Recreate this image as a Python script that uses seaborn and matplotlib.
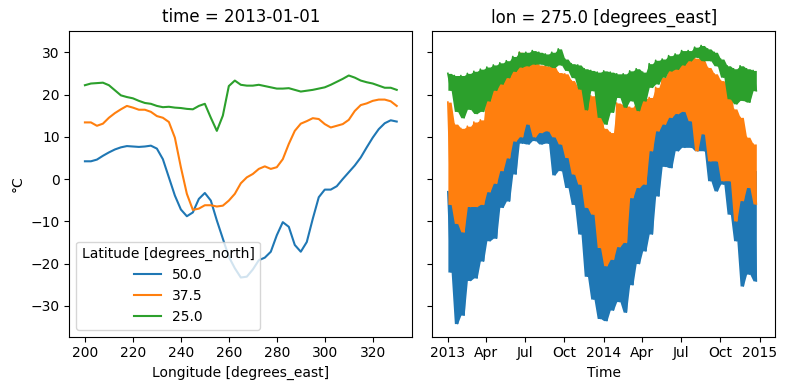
import numpy as np
import pandas as pd
import matplotlib
matplotlib.use("Agg")
import matplotlib.pyplot as plt
import matplotlib.dates as mdates
import matplotlib.ticker as mticker
import seaborn as sns

# ---------------- data: left panel (time = 2013-01-01) ----------------
lon = np.arange(200.0, 332.5, 2.5)
lat_labels = ["50.0", "37.5", "25.0"]
air_lat50 = [4.2, 4.2, 4.6, 5.5, 6.3, 7.0, 7.5, 7.8, 7.7, 7.6, 7.7, 7.9, 7.2, 4.7,
             0.4, -3.9, -7.2, -8.8, -7.9, -4.7, -3.3, -5.1, -9.8, -14.1, -18.4,
             -21.1, -23.3, -23.1, -21.4, -19.2, -18.6, -17.2, -13.3, -10.2, -11.3,
             -15.6, -17.2, -14.9, -9.4, -4.3, -2.5, -2.5, -1.7, 0.0, 1.6, 3.2, 5.1,
             7.5, 9.8, 11.8, 13.2, 13.9, 13.6]
air_lat37 = [13.4, 13.4, 12.6, 13.1, 14.5, 15.6, 16.5, 17.3, 16.9, 16.4, 16.4, 15.9,
             14.9, 14.5, 13.5, 9.8, 2.8, -3.5, -7.3, -7.0, -6.2, -6.2, -6.5, -6.3,
             -5.1, -3.5, -1.0, 0.4, 1.2, 2.4, 3.0, 2.4, 2.8, 4.7, 8.3, 11.4, 13.1,
             13.7, 14.4, 14.2, 13.0, 12.2, 12.6, 13.0, 14.0, 16.1, 17.5, 17.9, 18.5,
             18.8, 18.8, 18.4, 17.3]
air_lat25 = [22.2, 22.6, 22.7, 22.8, 22.2, 21.0, 19.8, 19.4, 19.1, 18.5, 18.0, 17.8,
             17.3, 17.0, 17.1, 16.9, 16.8, 16.6, 16.5, 17.3, 17.8, 14.5, 11.4, 15.0,
             22.0, 23.3, 22.3, 22.1, 22.1, 22.3, 22.0, 21.7, 21.4, 21.4, 21.5, 21.1,
             20.7, 20.9, 21.1, 21.4, 21.7, 22.3, 23.0, 23.7, 24.5, 24.0, 23.3, 22.9,
             22.6, 22.1, 21.6, 21.6, 21.1]

# ---------------- data: right panel (lon = 275), half-month max / min readings --------
lat50_max = [-3, -6, -5, -2, -1, 2, 6, 9, 13, 17, 20, 23, 25.7, 24, 24, 26.4, 22, 20,
             17, 14, 9, 5, 2, 0, -2, -4, -2, 0, 2, 4, 8, 12, 15, 18, 20.9, 22, 24, 25,
             24, 20.5, 18, 15, 12, 10, 5, 2, 3, 2]
lat50_min = [-22, -34.2, -32.2, -24, -23.4, -19.4, -14.6, -14, -6.7, -5.2, 1.2, 8.5,
             8.3, 9.1, 8.3, 8.5, 1.0, 2.0, -2.0, -6, -13, -23, -28.4, -33, -33.5, -31,
             -29, -31.5, -25, -20, -17, -13, -4, 3.0, 2.7, 6.7, 7.5, 7.5, 6.7, 6.7,
             -0.4, -2.8, -1.2, -8.3, -14.6, -25.3, -22.5, -24.1]
lat37_max = [18.2, 13.0, 12.0, 12.5, 13.5, 14.0, 22.0, 23.0, 25.0, 26.0, 28.5, 30.0,
             29.6, 28.4, 27.0, 26.8, 26.8, 25.2, 24.9, 23.3, 21.7, 20.1, 19.7, 20.1,
             12.0, 11.0, 18.0, 17.5, 17.0, 18.2, 19.0, 19.3, 21.7, 24.1, 25.7, 27.3,
             30.0, 28.8, 28.6, 28.4, 26.4, 24.9, 23.3, 22.1, 16.6, 14.6, 9.9, 8.3]
lat37_min = [-6.0, -10.5, -12.5, -6.5, -6.5, -6.0, -3.0, -1.0, 2.0, 5.0, 9.0, 10.0,
             13.0, 10.0, 11.0, 11.4, 10.0, 8.3, 5.1, 1.2, -1.2, -6.7, -8.3, -16.2,
             -20.5, -19.0, -16.0, -15.0, -4.4, -2.0, -1.2, 6.7, 11.4, 13.0, 14.6, 15.5,
             16.0, 13.8, 6.7, 10.7, 4.3, 4.3, -0.4, -0.4, -9.9, -5.1, -2.0, -5.9]
lat25_max = [25.0, 24.5, 24.5, 25.0, 25.5, 26.0, 26.5, 27.0, 27.5, 28.0, 29.0, 30.0,
             30.0, 30.4, 30.0, 29.6, 30.0, 30.8, 28.4, 27.3, 27.0, 26.1, 25.7, 25.3,
             25.6, 25.3, 24.9, 24.9, 25.6, 26.1, 25.3, 27.3, 28.1, 28.4, 29.2, 29.6,
             30.4, 30.4, 31.2, 31.6, 30.8, 30.0, 28.4, 26.8, 26.1, 26.8, 26.1, 25.7]
lat25_min = [21.0, 16.0, 14.5, 16.5, 15.5, 16.0, 18.5, 21.0, 22.5, 24.0, 25.5, 26.5,
             26.8, 27.2, 27.2, 26.8, 26.4, 27.0, 25.7, 24.0, 21.3, 16.4, 20.9, 14.6,
             13.0, 15.8, 19.3, 17.0, 18.5, 16.2, 18.5, 21.7, 22.5, 24.1, 25.6, 26.0,
             27.0, 28.0, 28.8, 28.0, 28.0, 26.8, 24.1, 19.0, 17.8, 18.6, 18.2, 20.9]

# ---------------- tables ----------------
hue_name = "Latitude [degrees_north]"
left_df = pd.concat([
    pd.DataFrame({"lon": lon, "air": vals, hue_name: lab})
    for vals, lab in zip([air_lat50, air_lat37, air_lat25], lat_labels)
], ignore_index=True)

times = pd.date_range("2013-01-01", periods=96, freq="182h30min")

def interleave(mx, mn):
    out = []
    for a, b in zip(mx, mn):
        out.extend([a, b])
    return out

series = [(lat50_max, lat50_min), (lat37_max, lat37_min), (lat25_max, lat25_min)]
right_df = pd.concat([
    pd.DataFrame({"time": times, "air": interleave(mx, mn),
                  "lo": np.repeat(mn, 2), "hi": np.repeat(mx, 2), hue_name: lab})
    for (mx, mn), lab in zip(series, lat_labels)
], ignore_index=True)

# ---------------- figure ----------------
palette = {"50.0": "#1f77b4", "37.5": "#ff7f0e", "25.0": "#2ca02c"}
fig = plt.figure(figsize=(7.87, 3.90), dpi=100)
ax1 = fig.add_axes([0.0881, 0.1367, 0.4358, 0.7846])
ax2 = fig.add_axes([0.5493, 0.1367, 0.4355, 0.7846], sharey=ax1)

sns.lineplot(data=left_df, x="lon", y="air", hue=hue_name, hue_order=lat_labels,
             palette=palette, estimator=None, sort=False, linewidth=1.5, ax=ax1)

for i, lab in enumerate(lat_labels):
    sub = right_df[right_df[hue_name] == lab]
    ax2.fill_between(sub["time"], sub["lo"], sub["hi"], color=palette[lab],
                     linewidth=0, alpha=1.0, zorder=2 + 2 * i)
    sns.lineplot(data=sub, x="time", y="air", color=palette[lab],
                 estimator=None, sort=False, linewidth=1.2, ax=ax2,
                 legend=False, zorder=3 + 2 * i)

ax1.set_xlim(193.5, 336.5)
ax1.set_ylim(-37.3, 35.1)
ax1.set_xticks([200, 220, 240, 260, 280, 300, 320])
ax1.set_yticks([-30, -20, -10, 0, 10, 20, 30])
ax1.set_xlabel("Longitude [degrees_east]")
ax1.set_ylabel("°C")
ax1.set_title("time = 2013-01-01")
leg = ax1.legend(title=hue_name, loc="lower left")

t0 = pd.Timestamp("2013-01-01")
t1 = pd.Timestamp("2014-12-31 18:00")
pad = (t1 - t0) * 0.05
ax2.set_xlim(t0 - pad, t1 + pad)
ax2.xaxis.set_major_locator(mdates.MonthLocator(bymonth=[1, 4, 7, 10]))

def fmt(x, pos=None):
    d = mdates.num2date(x)
    return str(d.year) if d.month == 1 else d.strftime("%b")

ax2.xaxis.set_major_formatter(mticker.FuncFormatter(fmt))
ax2.set_xlabel("Time")
ax2.set_ylabel("")
ax2.set_title("lon = 275.0 [degrees_east]")
plt.setp(ax2.get_yticklabels(), visible=False)

fig.savefig("out.png", dpi=100)
